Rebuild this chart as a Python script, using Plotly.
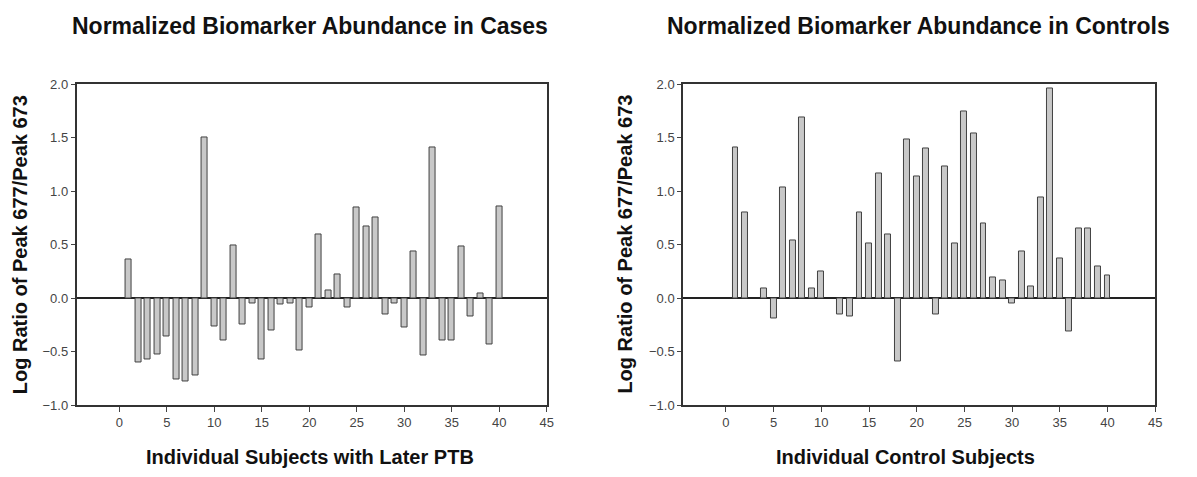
import plotly.graph_objects as go

subjects = list(range(1, 41))
cases = [0.36, -0.60, -0.57, -0.53, -0.36, -0.76, -0.78, -0.72, 1.50, -0.26,
         -0.40, 0.49, -0.25, -0.05, -0.57, -0.30, -0.06, -0.05, -0.49, -0.09,
         0.60, 0.07, 0.22, -0.09, 0.85, 0.67, 0.76, -0.15, -0.05, -0.27,
         0.44, -0.54, 1.41, -0.40, -0.40, 0.48, -0.17, 0.04, -0.43, 0.86]
controls = [1.41, 0.80, None, 0.09, -0.19, 1.04, 0.54, 1.69, 0.09, 0.25,
            None, -0.15, -0.17, 0.80, 0.51, 1.17, 0.60, -0.59, 1.49, 1.14,
            1.40, -0.15, 1.23, 0.51, 1.75, 1.54, 0.70, 0.19, 0.17, -0.05,
            0.44, 0.11, 0.94, 1.96, 0.37, -0.31, 0.65, 0.65, 0.30, 0.21]

x_ticks = [0, 5, 10, 15, 20, 25, 30, 35, 40, 45]
y_ticks = [-1.0, -0.5, 0.0, 0.5, 1.0, 1.5, 2.0]

W, H = 1197, 477
fig = go.Figure()

bar_style = dict(marker=dict(color="#c8c8c8", line=dict(color="#404040", width=1)),
                 width=0.62, showlegend=False)
fig.add_trace(go.Bar(x=subjects, y=cases, xaxis="x", yaxis="y", **bar_style))
fig.add_trace(go.Bar(x=subjects, y=controls, xaxis="x2", yaxis="y2", **bar_style))

ydom = [1 - 411 / H, 1 - 80 / H]
common_x = dict(range=[-4.5, 45], tickvals=x_ticks, ticks="outside", ticklen=5,
                showline=True, linecolor="#333", linewidth=1.5, mirror=True,
                showgrid=False, zeroline=False,
                tickfont=dict(family="Liberation Sans, Arial", size=13, color="#444"))
common_y = dict(range=[-1, 2], tickvals=y_ticks, tickformat=".1f", ticks="outside",
                ticklen=4, showline=True, linecolor="#333", linewidth=1.5, mirror=True,
                showgrid=False, zeroline=True, zerolinecolor="#222", zerolinewidth=1.5,
                tickfont=dict(family="Liberation Sans, Arial", size=13, color="#444"))

fig.update_layout(
    width=W, height=H,
    margin=dict(l=0, r=0, t=0, b=0),
    paper_bgcolor="white", plot_bgcolor="white",
    bargap=0,
    xaxis=dict(domain=[77 / W, 550 / W], anchor="y", **common_x),
    yaxis=dict(domain=ydom, anchor="x", **common_y),
    xaxis2=dict(domain=[687 / W, 1162 / W], anchor="y2", **common_x),
    yaxis2=dict(domain=ydom, anchor="x2", **common_y),
)

tfont = dict(family="Liberation Sans, Arial", size=23, color="#111")
afont = dict(family="Liberation Sans, Arial", size=20, color="#111")
annots = [
    dict(text="<b>Normalized Biomarker Abundance in Cases</b>", x=312 / W, y=1 - 20 / H, font=tfont),
    dict(text="<b>Normalized Biomarker Abundance in Controls</b>", x=924 / W, y=1 - 20 / H, font=tfont),
    dict(text="<b>Individual Subjects with Later PTB</b>", x=312 / W, y=1 - 465 / H, font=afont),
    dict(text="<b>Individual Control Subjects</b>", x=911 / W, y=1 - 465 / H, font=afont),
    dict(text="<b>Log Ratio of Peak 677/Peak 673</b>", x=20 / W, y=1 - 245 / H, font=afont, textangle=-90),
    dict(text="<b>Log Ratio of Peak 677/Peak 673</b>", x=629 / W, y=1 - 245 / H, font=afont, textangle=-90),
]
for a in annots:
    fig.add_annotation(xref="paper", yref="paper", showarrow=False,
                       xanchor="center", yanchor="middle", **a)

fig.write_html("out.html")
